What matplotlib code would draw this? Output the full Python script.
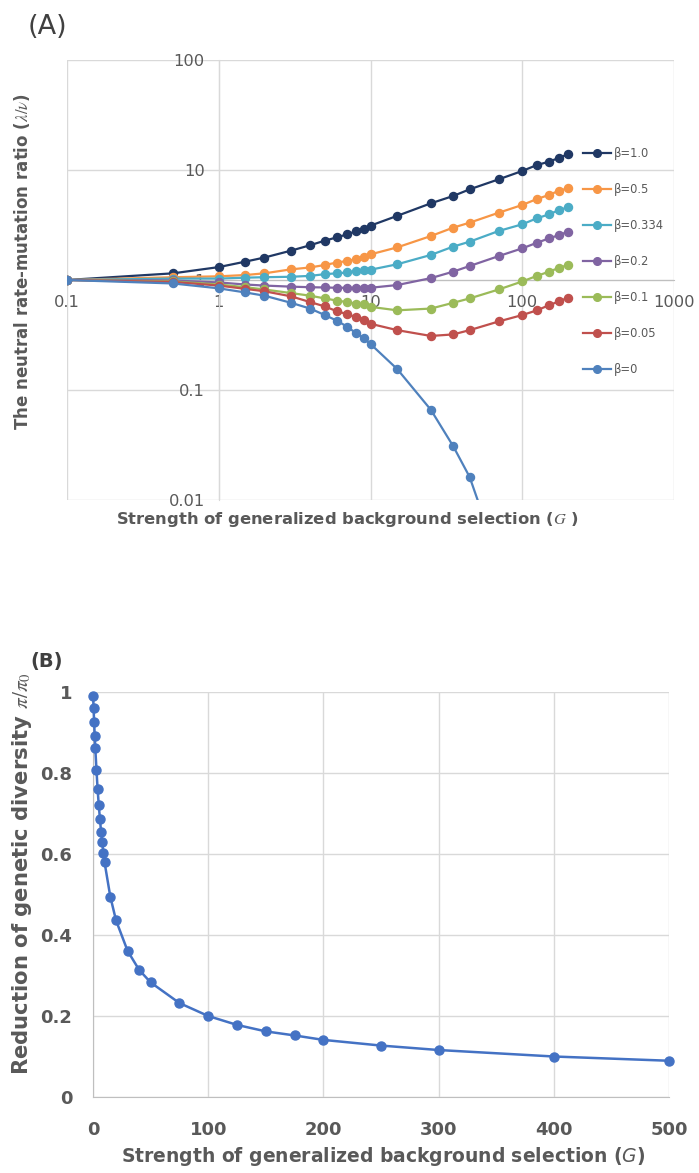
import matplotlib
matplotlib.use("Agg")
import matplotlib.pyplot as plt

# ---------------- data: panel A ----------------
G_A = [0.1, 0.5, 1, 1.5, 2, 3, 4, 5, 6, 7, 8, 9, 10, 15, 25, 35, 45, 70, 100, 125, 150, 175, 200]
labels_A = ["β=1.0", "β=0.5", "β=0.334", "β=0.2", "β=0.1", "β=0.05", "β=0"]
beta_10 = [1.0, 1.15, 1.31, 1.47, 1.60, 1.85, 2.07, 2.28, 2.44, 2.60, 2.77, 2.92, 3.12, 3.83, 4.98, 5.80, 6.67, 8.23, 9.8, 11.1, 11.9, 12.9, 13.9]
beta_05 = [1.0, 1.06, 1.08, 1.11, 1.15, 1.25, 1.30, 1.37, 1.44, 1.49, 1.54, 1.61, 1.71, 1.98, 2.51, 2.99, 3.32, 4.09, 4.81, 5.45, 5.93, 6.49, 6.81]
beta_0334 = [1.0, 1.03, 1.03, 1.05, 1.06, 1.07, 1.09, 1.13, 1.15, 1.17, 1.21, 1.23, 1.24, 1.39, 1.69, 2.01, 2.23, 2.79, 3.21, 3.64, 3.95, 4.33, 4.58]
beta_02 = [1.0, 0.99, 0.95, 0.91, 0.89, 0.87, 0.86, 0.855, 0.85, 0.85, 0.85, 0.85, 0.85, 0.90, 1.04, 1.19, 1.34, 1.65, 1.94, 2.18, 2.39, 2.56, 2.75]
beta_01 = [1.0, 0.97, 0.91, 0.86, 0.82, 0.76, 0.72, 0.68, 0.65, 0.63, 0.61, 0.60, 0.57, 0.53, 0.55, 0.62, 0.68, 0.82, 0.97, 1.09, 1.19, 1.29, 1.37]
beta_005 = [1.0, 0.96, 0.89, 0.83, 0.79, 0.71, 0.63, 0.575, 0.52, 0.49, 0.46, 0.43, 0.40, 0.35, 0.31, 0.32, 0.35, 0.42, 0.48, 0.53, 0.59, 0.64, 0.69]
beta_00 = [1.0, 0.93, 0.84, 0.77, 0.72, 0.62, 0.55, 0.48, 0.427, 0.377, 0.33, 0.295, 0.262, 0.155, 0.066, 0.031, 0.0162, 0.0028]
series_A = [beta_10, beta_05, beta_0334, beta_02, beta_01, beta_005, beta_00]
colors_A = ["#203864", "#F79646", "#4BACC6", "#8064A2", "#9BBB59", "#C0504D", "#4F81BD"]
xticks_A = [0.1, 1, 10, 100, 1000]
xticklabels_A = ["0.1", "1", "10", "100", "1000"]
yticks_A = [0.01, 0.1, 1, 10, 100]
yticklabels_A = ["0.01", "0.1", "1", "10", "100"]

# ---------------- data: panel B ----------------
G_B = [0.1, 0.5, 1, 1.5, 2, 3, 4, 5, 6, 7, 8, 9, 10, 15, 20, 30, 40, 50, 75, 100, 125, 150, 175, 200, 250, 300, 400, 500]
pi_ratio = [0.99, 0.96, 0.925, 0.891, 0.861, 0.808, 0.760, 0.721, 0.687, 0.655, 0.629, 0.602, 0.580, 0.495, 0.436,
            0.361, 0.314, 0.283, 0.232, 0.200, 0.178, 0.162, 0.152, 0.141, 0.127, 0.116, 0.100, 0.0895]
xticks_B = [0, 100, 200, 300, 400, 500]
yticks_B = [0, 0.2, 0.4, 0.6, 0.8, 1]
yticklabels_B = ["0", "0.2", "0.4", "0.6", "0.8", "1"]

W, H = 699, 1173
fig = plt.figure(figsize=(W / 100, H / 100), dpi=100)
fig.patch.set_facecolor("white")

TXT = "#595959"
GRID = "#d9d9d9"
FONT = "DejaVu Sans"
plt.rcParams["font.family"] = FONT


def fx(px):
    return px / W


def fy(py):
    return 1 - py / H


# ================= Panel A =================
axA = fig.add_axes([fx(67), fy(500), fx(674) - fx(67), fy(60) - fy(500)])
axA.set_xscale("log")
axA.set_yscale("log")
axA.set_xlim(0.1, 1000)
axA.set_ylim(0.01, 100)
for s, c, lab in zip(series_A, colors_A, labels_A):
    axA.plot(G_A[:len(s)], s, color=c, lw=1.6, marker="o", ms=5.8, label=lab, zorder=3)

axA.set_xticks(xticks_A)
axA.set_xticklabels(xticklabels_A)
axA.set_yticks(yticks_A)
axA.set_yticklabels(yticklabels_A)
axA.minorticks_off()
axA.grid(True, color=GRID, lw=1.0, zorder=0)
axA.set_axisbelow(True)
for sp in ["top", "right"]:
    axA.spines[sp].set_visible(False)
axA.spines["left"].set_position(("data", 1))
axA.spines["bottom"].set_position(("data", 1))
axA.spines["left"].set_color(GRID)
axA.spines["bottom"].set_color("#bfbfbf")
axA.tick_params(axis="both", length=0, labelsize=11.7, labelcolor=TXT)
axA.tick_params(axis="y", pad=10)
axA.tick_params(axis="x", pad=11)

leg = axA.legend(loc="upper left", bbox_to_anchor=(fx(583), fy(147)), bbox_transform=fig.transFigure,
                 frameon=False, fontsize=8.3, labelspacing=2.0, handlelength=2.4, handletextpad=0.3,
                 borderpad=0, borderaxespad=0, markerscale=0.95)
for t in leg.get_texts():
    t.set_color(TXT)

fig.text(fx(28), fy(27), "(A)", fontsize=19.5, color="#404040", ha="left", va="center")
fig.text(fx(22), fy(262), "The neutral rate-mutation ratio ($\\lambda/\\nu$)", rotation=90,
         fontsize=12, fontweight="bold", color=TXT, ha="center", va="center", math_fontfamily="stix")
fig.text(fx(348), fy(520), "Strength of generalized background selection ($G$ )",
         fontsize=11.8, fontweight="bold", color=TXT, ha="center", va="center", math_fontfamily="stix")

# ================= Panel B =================
axB = fig.add_axes([fx(93), fy(1097), fx(669) - fx(93), fy(692) - fy(1097)])
axB.set_xlim(0, 500)
axB.set_ylim(0, 1)
axB.plot(G_B, pi_ratio, color="#4472C4", lw=1.8, marker="o", ms=6.5, clip_on=False, zorder=3)
axB.set_xticks(xticks_B)
axB.set_yticks(yticks_B)
axB.set_yticklabels(yticklabels_B)
axB.grid(True, color=GRID, lw=1.0, zorder=0)
axB.set_axisbelow(True)
for sp in ["top", "right"]:
    axB.spines[sp].set_visible(False)
axB.spines["left"].set_color("#bfbfbf")
axB.spines["bottom"].set_color("#bfbfbf")
axB.tick_params(axis="both", length=0, labelsize=13, labelcolor=TXT)
axB.tick_params(axis="y", pad=15)
axB.tick_params(axis="x", pad=17)
for t in axB.get_xticklabels() + axB.get_yticklabels():
    t.set_fontweight("bold")

fig.text(fx(30), fy(662), "(B)", fontsize=14, fontweight="bold", color="#404040", ha="left", va="center")
fig.text(fx(22), fy(874), "Reduction of genetic diversity $\\pi/\\pi_0$", rotation=90,
         fontsize=15.2, fontweight="bold", color=TXT, ha="center", va="center", math_fontfamily="stix")
fig.text(fx(383), fy(1157), "Strength of generalized background selection ($G$)",
         fontsize=13.5, fontweight="bold", color=TXT, ha="center", va="center", math_fontfamily="dejavusans")

fig.savefig("out.png", dpi=100)
